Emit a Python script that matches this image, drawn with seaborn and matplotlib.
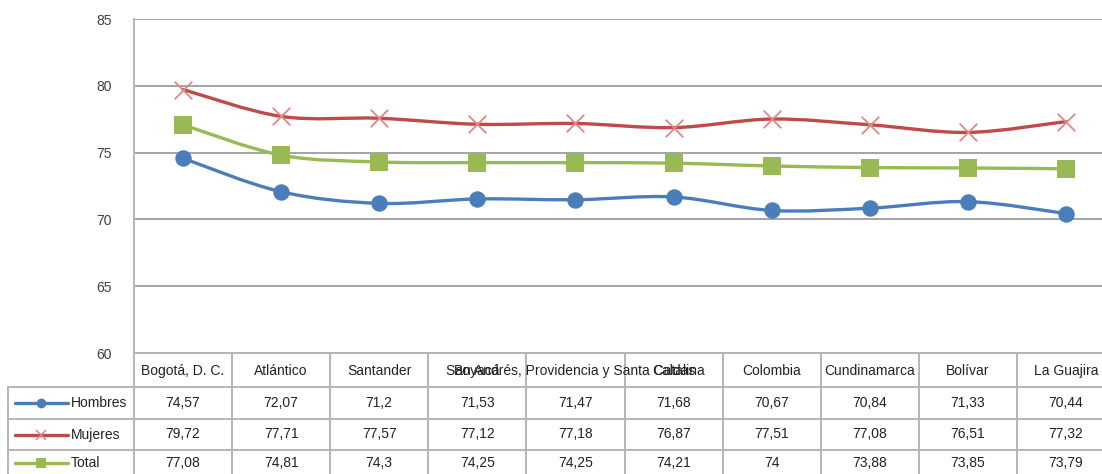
import matplotlib
matplotlib.use("Agg")
import matplotlib.pyplot as plt
import matplotlib.transforms as mtransforms
from matplotlib.path import Path
from matplotlib.patches import PathPatch
from matplotlib.lines import Line2D
import seaborn as sns
import pandas as pd

categories = ["Bogotá, D. C.", "Atlántico", "Santander", "Boyacá",
              "San Andrés, Providencia y Santa Catalina", "Caldas",
              "Colombia", "Cundinamarca", "Bolívar", "La Guajira"]
hombres = [74.57, 72.07, 71.2, 71.53, 71.47, 71.68, 70.67, 70.84, 71.33, 70.44]
mujeres = [79.72, 77.71, 77.57, 77.12, 77.18, 76.87, 77.51, 77.08, 76.51, 77.32]
total = [77.08, 74.81, 74.3, 74.25, 74.25, 74.21, 74.0, 73.88, 73.85, 73.79]
series_names = ["Hombres", "Mujeres", "Total"]
y_ticks = [60, 65, 70, 75, 80, 85]

colors = {"Hombres": "#4A7EBB", "Mujeres": "#BE4B48", "Total": "#98B954"}
mcolors = {"Hombres": "#4A7EBB", "Mujeres": "#E08784", "Total": "#98B954"}
markers = {"Hombres": "o", "Mujeres": "x", "Total": "s"}
msizes = {"Hombres": 140, "Mujeres": 160, "Total": 150}

sns.set_theme(style="white")
plt.rcParams["font.family"] = ["Liberation Sans", "DejaVu Sans"]

W, H = 1102, 474
fig = plt.figure(figsize=(W / 100, H / 100), dpi=100)
left_px, right_px, top_px, bot_px = 134, 1115, 19, 353
ax = fig.add_axes([left_px / W, 1 - bot_px / H, (right_px - left_px) / W, (bot_px - top_px) / H])

rows = []
for name, vals in zip(series_names, [hombres, mujeres, total]):
    for i, v in enumerate(vals):
        rows.append({"serie": name, "x": i, "valor": v})
df = pd.DataFrame(rows)


def smooth_path(xs, ys):
    verts = [(xs[0], ys[0])]
    codes = [Path.MOVETO]
    n = len(xs)
    for i in range(n - 1):
        a = i - 1 if i > 0 else i
        d = i + 2 if i + 2 < n else i + 1
        c1 = (xs[i] + (xs[i + 1] - xs[a]) / 6, ys[i] + (ys[i + 1] - ys[a]) / 6)
        c2 = (xs[i + 1] - (xs[d] - xs[i]) / 6, ys[i + 1] - (ys[d] - ys[i]) / 6)
        verts += [c1, c2, (xs[i + 1], ys[i + 1])]
        codes += [Path.CURVE4] * 3
    return Path(verts, codes)


for k, name in enumerate(series_names):
    sub = df[df["serie"] == name]
    xs = list(sub["x"])
    ys = list(sub["valor"])
    patch = PathPatch(smooth_path(xs, ys), facecolor="none", edgecolor=colors[name],
                      lw=2.4, zorder=3 + k, capstyle="round", joinstyle="round")
    ax.add_patch(patch)
    if markers[name] == "x":
        sns.scatterplot(data=sub, x="x", y="valor", ax=ax, marker="x", s=msizes[name],
                        color=mcolors[name], linewidth=1.3, zorder=3.5 + k, legend=False)
    else:
        sns.scatterplot(data=sub, x="x", y="valor", ax=ax, marker=markers[name], s=msizes[name],
                        color=mcolors[name], edgecolor=mcolors[name], linewidth=0,
                        zorder=3.5 + k, legend=False)

ax.set_xlim(-0.5, len(categories) - 0.5)
ax.set_ylim(60, 85)
ax.set_yticks(y_ticks)
ax.set_xticks([])
ax.set_xlabel("")
ax.set_ylabel("")
ax.yaxis.grid(True, color="#8C8C8C", lw=1.1)
ax.set_axisbelow(True)
ax.tick_params(axis="y", length=0, pad=16, labelsize=10, labelcolor="#404040")
for s in ["top", "right", "bottom"]:
    ax.spines[s].set_visible(False)
ax.spines["left"].set_color("#B5B5B5")
ax.spines["left"].set_linewidth(1.4)

# ---- data table below ----
tcol = "#B5B5B5"
trans = mtransforms.blended_transform_factory(ax.transData, fig.transFigure)


def fy(px):
    return 1 - px / H


row_lines = [353, 387, 419, 450]
for j, yp in enumerate(row_lines):
    x0 = left_px if j == 0 else 8
    fig.add_artist(Line2D([x0 / W, right_px / W], [fy(yp), fy(yp)], transform=fig.transFigure,
                          color=tcol, lw=1.4))
# left border of legend column
fig.add_artist(Line2D([8 / W, 8 / W], [fy(387), fy(H + 5)], transform=fig.transFigure, color=tcol, lw=1.4))
# column separators
for i in range(1, len(categories) + 1):
    fig.add_artist(Line2D([i - 0.5, i - 0.5], [fy(353), fy(H + 5)], transform=trans, color=tcol, lw=1.4))
fig.add_artist(Line2D([left_px / W, left_px / W], [fy(353), fy(H + 5)], transform=fig.transFigure,
                      color=tcol, lw=1.4))

txtc = "#222222"
for i, c in enumerate(categories):
    fig.text(i, fy(371), c, transform=trans, ha="center", va="center", fontsize=10, color=txtc)

row_centers = [403, 434.5, 463]
for name, vals, yc in zip(series_names, [hombres, mujeres, total], row_centers):
    for i, v in enumerate(vals):
        t = f"{v:g}".replace(".", ",")
        fig.text(i, fy(yc), t, transform=trans, ha="center", va="center", fontsize=10, color=txtc)
    # legend key
    fig.add_artist(Line2D([15 / W, 68 / W], [fy(yc), fy(yc)], transform=fig.transFigure,
                          color=colors[name], lw=2.4))
    mk = markers[name]
    fig.add_artist(Line2D([41 / W], [fy(yc)], transform=fig.transFigure, marker=mk,
                          markersize=7 if mk != "x" else 7.5, color=mcolors[name],
                          markeredgewidth=1.1 if mk == "x" else 0, linestyle="none"))
    fig.text(71 / W, fy(yc), name, ha="left", va="center", fontsize=10, color=txtc)

fig.savefig("out.png", dpi=100)
